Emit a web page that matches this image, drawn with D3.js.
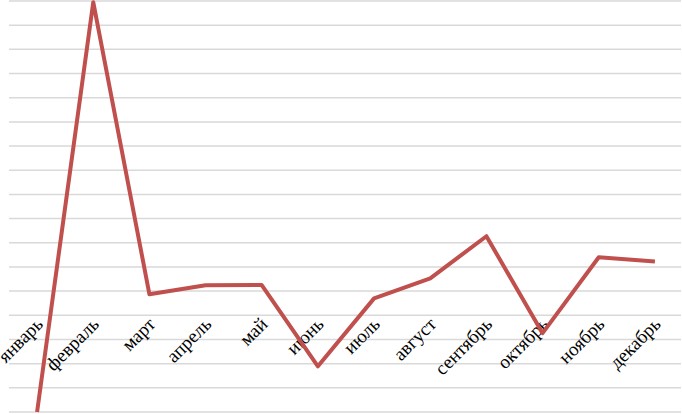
<!DOCTYPE html>
<html><head><meta charset="utf-8">
<script src="https://cdn.jsdelivr.net/npm/d3@7"></script>
<style>html,body{margin:0;padding:0;background:#fff;}svg{display:block;}</style>
</head><body>
<svg id="chart" width="682" height="414"></svg>
<script>
const months = ["январь","февраль","март","апрель","май","июнь","июль","август","сентябрь","октябрь","ноябрь","декабрь"];
const values = [-4.0, 12.95, 0.87, 1.24, 1.25, -2.11, 0.70, 1.53, 3.27, -0.74, 2.40, 2.23];
const yTicks = d3.range(-4, 14, 1);

const svg = d3.select("#chart");
const x = d3.scaleBand().domain(months).range([9, 683]);
const y = d3.scaleLinear().domain([-4, 13]).range([412, 1]);

// gridlines
svg.append("g").selectAll("line").data(yTicks).join("line")
  .attr("x1", 9).attr("x2", 681)
  .attr("y1", d => y(d)).attr("y2", d => y(d))
  .attr("stroke", "#d9d9d9").attr("stroke-width", 1.5);

// category labels at y=0
const lab = svg.append("g");
lab.selectAll("text").data(months).join("text")
  .attr("transform", d => `translate(${x(d) + x.bandwidth()/2 + 7},${y(0) + 10}) rotate(-45)`)
  .attr("text-anchor", "end")
  .attr("font-family", "'Liberation Serif','Times New Roman',serif")
  .attr("font-size", 19)
  .attr("fill", "#000")
  .text(d => d);

const line = d3.line()
  .x((d, i) => x(months[i]) + x.bandwidth()/2)
  .y(d => y(d));

svg.append("path").datum(values)
  .attr("d", line)
  .attr("fill", "none")
  .attr("stroke", "#c0504d")
  .attr("stroke-width", 4)
  .attr("stroke-linejoin", "round");
</script>
</body></html>
